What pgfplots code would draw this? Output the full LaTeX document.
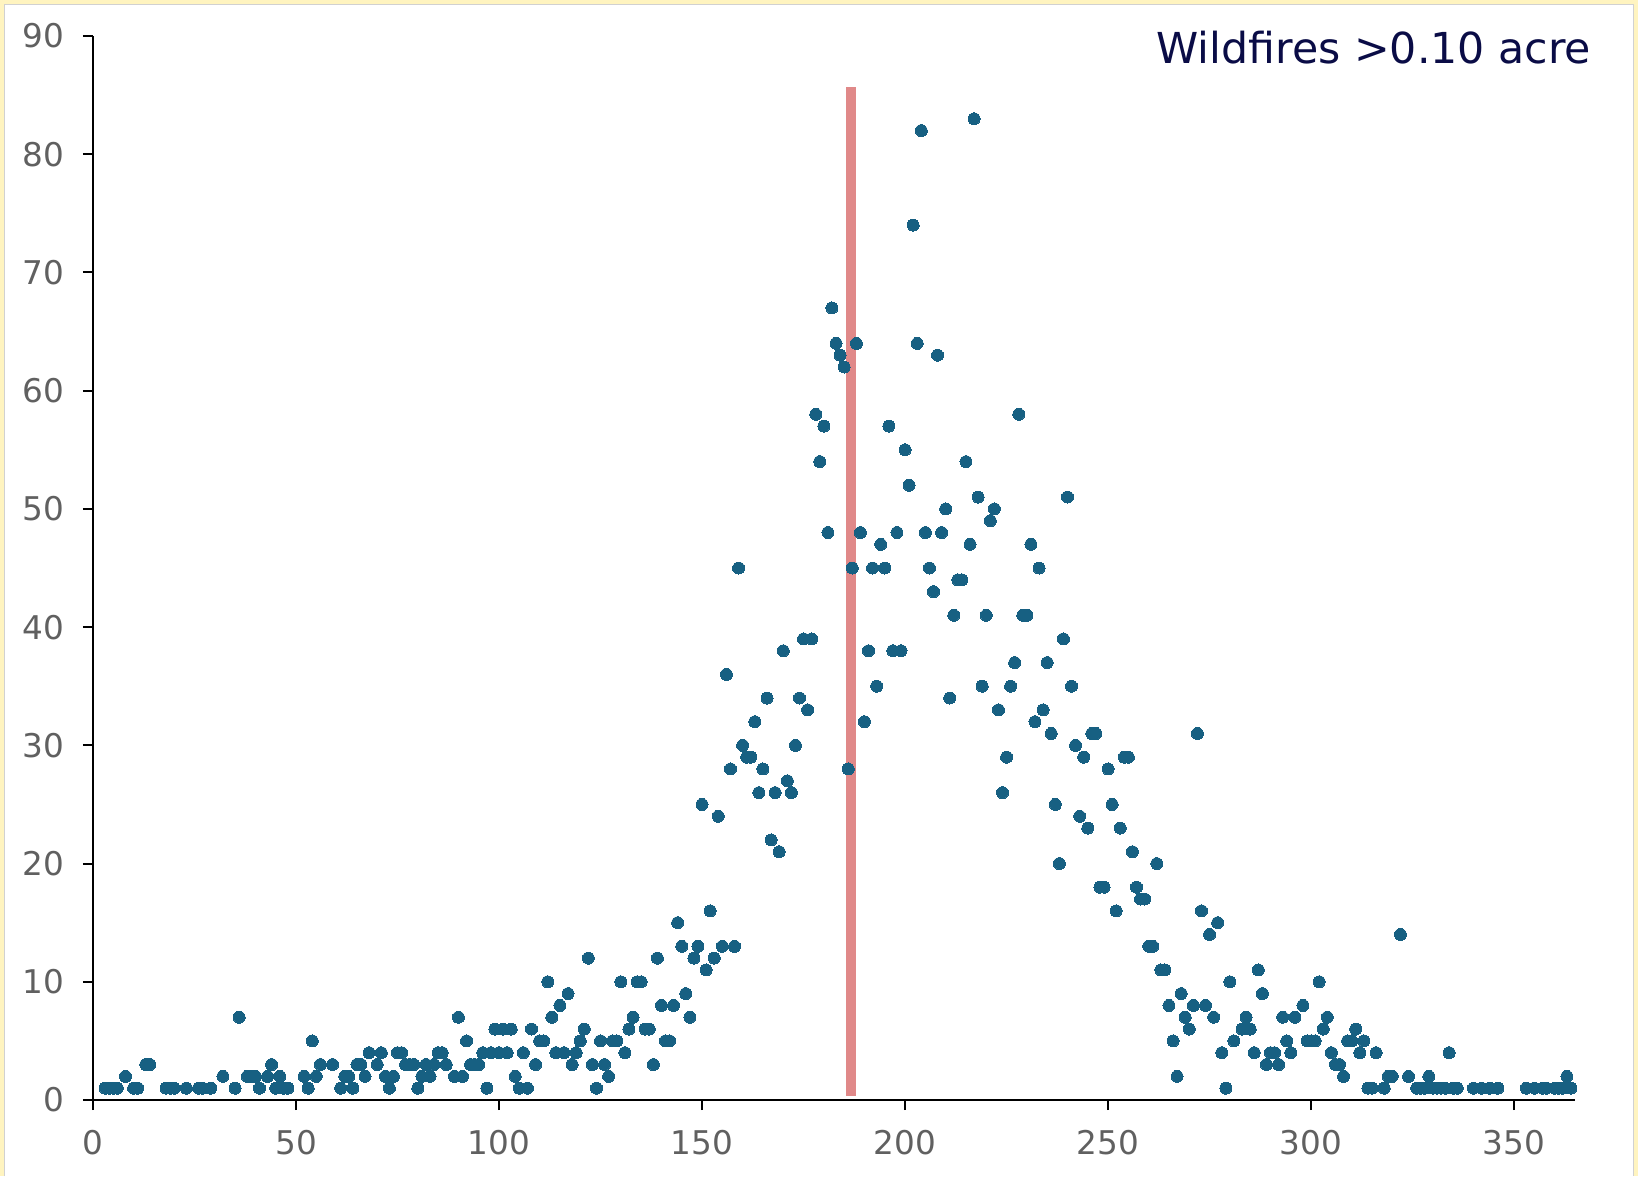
\documentclass[border=0pt]{standalone}
\usepackage{fontspec}
\setmainfont{DejaVu Sans}
\usepackage{pgfplots}
\usepackage{pgfplotstable}
\pgfplotsset{compat=1.18}
\definecolor{dot}{RGB}{23,96,130}
\definecolor{band}{RGB}{213,92,92}
\definecolor{frameyellow}{RGB}{255,244,192}
\definecolor{ticktext}{RGB}{96,96,96}
\definecolor{titlecol}{RGB}{10,12,70}

\pgfplotstableread{
day fires
3 1
4 1
5 1
6 1
8 2
10 1
11 1
13 3
14 3
18 1
19 1
20 1
23 1
26 1
27 1
29 1
32 2
35 1
36 7
38 2
39 2
40 2
41 1
43 2
44 3
45 1
46 2
47 1
48 1
52 2
53 1
54 5
55 2
56 3
59 3
61 1
62 2
63 2
64 1
65 3
66 3
67 2
68 4
70 3
71 4
72 2
73 1
74 2
75 4
76 4
77 3
78 3
79 3
80 1
81 2
82 3
83 2
84 3
85 4
86 4
87 3
89 2
90 7
91 2
92 5
93 3
94 3
95 3
96 4
97 1
98 4
99 6
100 4
101 6
102 4
103 6
104 2
105 1
106 4
107 1
108 6
109 3
110 5
111 5
112 10
113 7
114 4
115 8
116 4
117 9
118 3
119 4
120 5
121 6
122 12
123 3
124 1
125 5
126 3
127 2
128 5
129 5
130 10
131 4
132 6
133 7
134 10
135 10
136 6
137 6
138 3
139 12
140 8
141 5
142 5
143 8
144 15
145 13
146 9
147 7
148 12
149 13
150 25
151 11
152 16
153 12
154 24
155 13
156 36
157 28
158 13
159 45
160 30
161 29
162 29
163 32
164 26
165 28
166 34
167 22
168 26
169 21
170 38
171 27
172 26
173 30
174 34
175 39
176 33
177 39
178 58
179 54
180 57
181 48
182 67
183 64
184 63
185 62
186 28
187 45
188 64
189 48
190 32
191 38
192 45
193 35
194 47
195 45
196 57
197 38
198 48
199 38
200 55
201 52
202 74
203 64
204 82
205 48
206 45
207 43
208 63
209 48
210 50
211 34
212 41
213 44
214 44
215 54
216 47
217 83
218 51
219 35
220 41
221 49
222 50
223 33
224 26
225 29
226 35
227 37
228 58
229 41
230 41
231 47
232 32
233 45
234 33
235 37
236 31
237 25
238 20
239 39
240 51
241 35
242 30
243 24
244 29
245 23
246 31
247 31
248 18
249 18
250 28
251 25
252 16
253 23
254 29
255 29
256 21
257 18
258 17
259 17
260 13
261 13
262 20
263 11
264 11
265 8
266 5
267 2
268 9
269 7
270 6
271 8
272 31
273 16
274 8
275 14
276 7
277 15
278 4
279 1
280 10
281 5
283 6
284 7
285 6
286 4
287 11
288 9
289 3
290 4
291 4
292 3
293 7
294 5
295 4
296 7
298 8
299 5
300 5
301 5
302 10
303 6
304 7
305 4
306 3
307 3
308 2
309 5
310 5
311 6
312 4
313 5
314 1
315 1
316 4
318 1
319 2
320 2
322 14
324 2
326 1
327 1
328 1
329 2
330 1
331 1
332 1
333 1
334 4
335 1
336 1
340 1
342 1
344 1
346 1
353 1
355 1
357 1
358 1
360 1
361 1
362 1
363 2
364 1
}\firesdata

\begin{document}
\begin{tikzpicture}
\useasboundingbox (-27.9pt,-22.8pt) rectangle (463.5pt,330pt);
\fill[frameyellow] (-27.9pt,-22.8pt) rectangle (463.5pt,330pt);
\fill[white] (-26.4pt,-22.8pt) rectangle (462pt,328.5pt);
\draw[black!18, line width=0.3pt] (-26.4pt,-22.8pt) -- (-26.4pt,328.5pt) -- (462pt,328.5pt) -- (462pt,-22.8pt);
\begin{axis}[
  at={(0,0)}, anchor=south west,
  scale only axis, width=444.6pt, height=319.2pt,
  xmin=0, xmax=365, ymin=0, ymax=90,
  axis lines=left,
  axis line style={-, line width=0.7pt, black},
  xtick={0,50,...,350}, ytick={0,10,...,90},
  tick align=outside, major tick length=3pt,
  tick style={black, line width=0.6pt},
  ticklabel style={font=\fontsize{9.8}{11}\selectfont, text=ticktext},
  /pgf/number format/assume math mode=true,
  xticklabel style={yshift=-2.5pt},
  yticklabel style={xshift=-2pt},
  clip=false,
]
\addplot[only marks, color=dot, mark=*, mark size=1.8pt, mark options={draw=dot, fill=dot, line width=0pt}] table[x=day, y=fires] {\firesdata};
\addplot[draw=none, fill=band, fill opacity=0.72] coordinates {(185.4,0.3) (187.8,0.3) (187.8,85.7) (185.4,85.7)} -- cycle;
\node[anchor=base east, text=titlecol, font=\fontsize{12.8}{15}\selectfont, inner sep=0pt] at (rel axis cs:1,1) [yshift=-8.1pt, xshift=5pt] {Wildfires >0.10 acre};
\end{axis}
\end{tikzpicture}
\end{document}
